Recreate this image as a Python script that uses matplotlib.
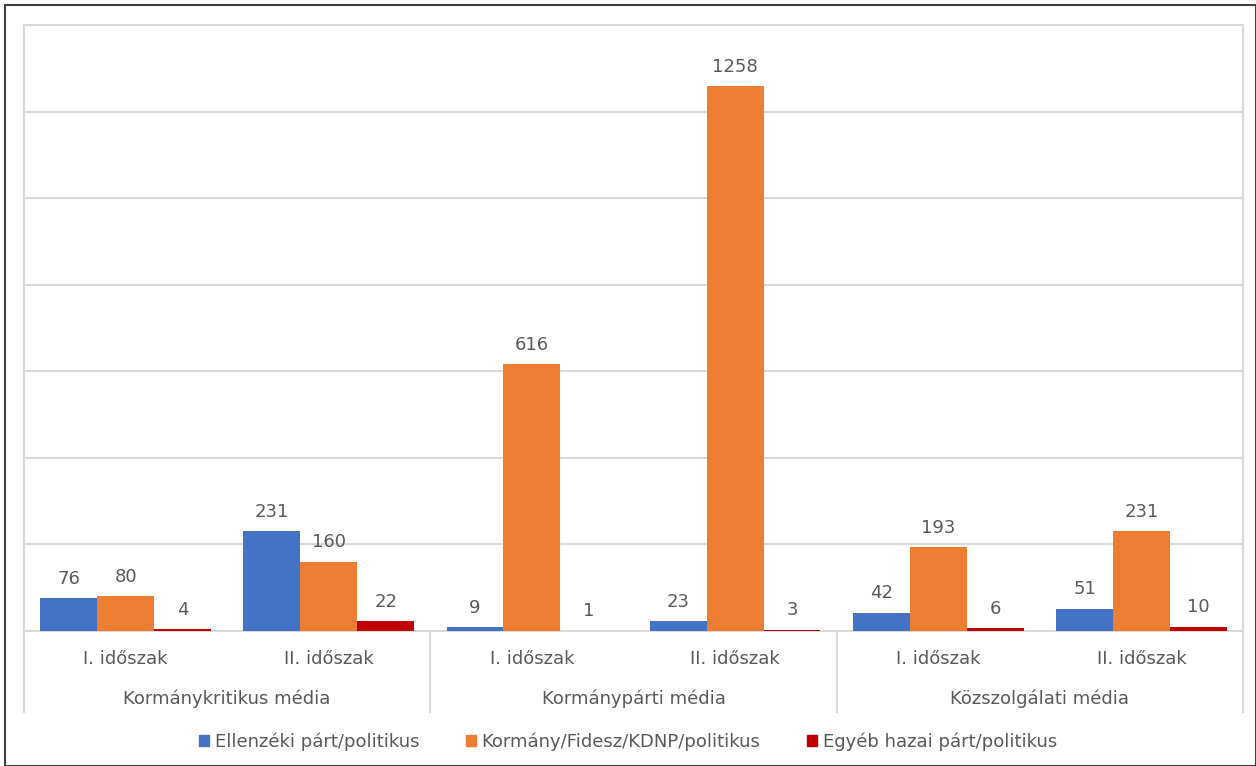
import numpy as np
import matplotlib
matplotlib.use('Agg')
from matplotlib import pyplot as plt
from matplotlib.patches import Patch, Rectangle
from matplotlib.transforms import blended_transform_factory

periods = ['I. időszak', 'II. időszak', 'I. időszak', 'II. időszak', 'I. időszak', 'II. időszak']
media = ['Kormánykritikus média', 'Kormánypárti média', 'Közszolgálati média']
series = ['Ellenzéki párt/politikus', 'Kormány/Fidesz/KDNP/politikus', 'Egyéb hazai párt/politikus']
ellenzeki = [76, 231, 9, 23, 42, 51]
kormany = [80, 160, 616, 1258, 193, 231]
egyeb = [4, 22, 1, 3, 6, 10]
colors = ['#4472C4', '#ED7D31', '#C00000']

plt.rcParams['font.family'] = ['DejaVu Sans']
text_color = '#595959'
grid_color = '#D9D9D9'
fs = 13

fig = plt.figure(figsize=(12.56, 7.66), dpi=100)
ax = fig.add_axes([24 / 1256, 135 / 766, 1219 / 1256, 606 / 766])

x = np.arange(len(periods))
width = 0.28
for i, (vals, col) in enumerate(zip([ellenzeki, kormany, egyeb], colors)):
    pos = x + (i - 1) * width
    ax.bar(pos, vals, width, color=col, zorder=3)
    for px, v in zip(pos, vals):
        ax.annotate(str(v), (px, v), xytext=(0, 14), textcoords='offset points',
                    ha='center', va='center', fontsize=fs, color=text_color)

ax.set_xlim(-0.5, len(periods) - 0.5)
ax.set_ylim(0, 1400)
ax.set_yticks(np.arange(0, 1401, 200))
ax.yaxis.grid(True, color=grid_color, linewidth=1.5, zorder=0)
ax.tick_params(left=False, bottom=False, labelleft=False, labelbottom=False)
for side in ['left', 'right', 'top', 'bottom']:
    ax.spines[side].set_color(grid_color)
    ax.spines[side].set_linewidth(1.5)

# two-level category axis
trans = blended_transform_factory(ax.transData, ax.transAxes)
for xi, label in zip(x, periods):
    ax.text(xi, -0.047, label, transform=trans, ha='center', va='center',
            fontsize=fs, color=text_color)
for k, name in enumerate(media):
    ax.text(2 * k + 0.5, -0.111, name, transform=trans, ha='center', va='center',
            fontsize=fs, color=text_color)
for sep in [-0.5, 1.5, 3.5, 5.5]:
    ax.plot([sep, sep], [0, -0.134], transform=trans, color=grid_color,
            linewidth=1.5, clip_on=False)

handles = [Patch(color=c, label=s) for c, s in zip(colors, series)]
leg = fig.legend(handles=handles, loc='center', bbox_to_anchor=(0.5, 24 / 766), ncol=3,
                 frameon=False, fontsize=fs, handlelength=0.55, handleheight=0.55,
                 handletextpad=0.3, columnspacing=2.6)
for t in leg.get_texts():
    t.set_color(text_color)

fig.patches.append(Rectangle((5 / 1256, 0), 1251 / 1256, 761 / 766, transform=fig.transFigure,
                             fill=False, edgecolor='#404040', linewidth=1.5))

fig.savefig('out.png', dpi=100)
